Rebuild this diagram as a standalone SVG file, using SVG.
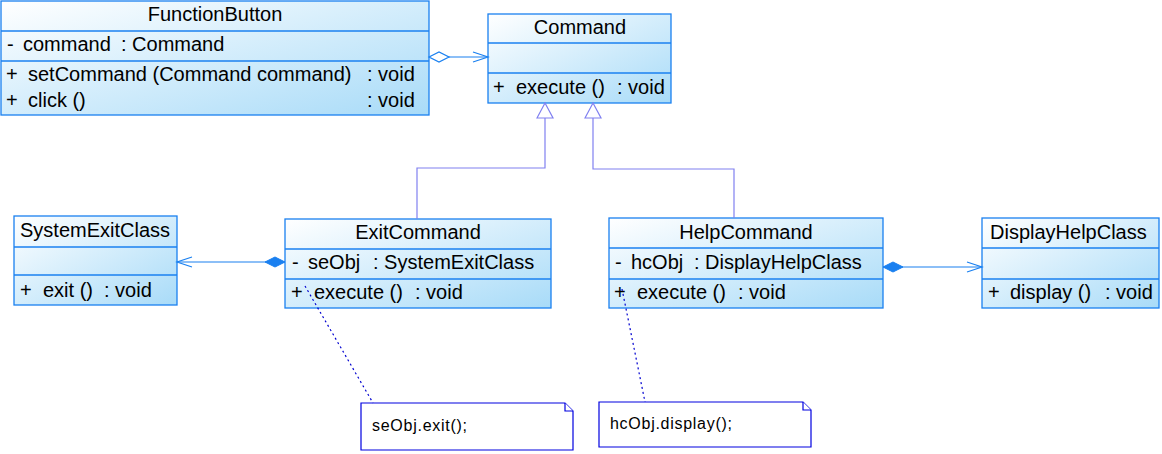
<svg xmlns="http://www.w3.org/2000/svg" width="1162" height="454" viewBox="0 0 1162 454">
<style>
.box{stroke:#1a80f0;stroke-width:1.3;fill:url(#g)}
.div{stroke:#1a80f0;stroke-width:1.3}
text{font-family:"Liberation Sans",Arial,sans-serif;font-size:20px;fill:#000}
.note text{font-size:16px}
.note path{fill:#fff;stroke:#0000e0;stroke-width:1.2}
.gen{fill:none;stroke:#8080f0;stroke-width:1.2}
.assoc{fill:none;stroke:#1a80f0;stroke-width:1.2}
.dash{fill:none;stroke:#0000d0;stroke-width:1.2;stroke-dasharray:2,3}
</style>
<defs>
<linearGradient id="g" x1="0" y1="0" x2="1" y2="1">
<stop offset="0" stop-color="#ffffff"/>
<stop offset="1" stop-color="#a8dbf8"/>
</linearGradient>
<marker id="open" markerUnits="userSpaceOnUse" markerWidth="17" markerHeight="12" refX="15" refY="5" orient="auto" overflow="visible">
<path d="M0,0 L15,5 L0,10" fill="none" stroke="#1a80f0" stroke-width="1.2"/>
</marker>
<marker id="fdiam" markerUnits="userSpaceOnUse" markerWidth="22" markerHeight="12" refX="0" refY="5" orient="auto" overflow="visible">
<path d="M0,5 L10,0 L20,5 L10,10 Z" fill="#1a80f0" stroke="#1a80f0" stroke-width="1"/>
</marker>
<marker id="hdiam" markerUnits="userSpaceOnUse" markerWidth="22" markerHeight="12" refX="0" refY="5" orient="auto" overflow="visible">
<path d="M0,5 L10,0 L20,5 L10,10 Z" fill="#fff" stroke="#1a80f0" stroke-width="1.2"/>
</marker>
<marker id="tri" markerUnits="userSpaceOnUse" markerWidth="18" markerHeight="18" refX="15" refY="8" orient="auto" overflow="visible">
<path d="M0,0 L15,8 L0,16 Z" fill="#fff" stroke="#8080f0" stroke-width="1.2"/>
</marker>
</defs>
<rect width="1162" height="454" fill="#fff"/>

<g id="FunctionButton">
<rect class="box" x="1" y="1" width="428" height="114"/>
<line class="div" x1="1" y1="31" x2="429" y2="31"/>
<line class="div" x1="1" y1="61" x2="429" y2="61"/>
<text x="215" y="21" text-anchor="middle">FunctionButton</text>
<text x="7" y="51">-</text><text x="23" y="51">command</text><text x="121" y="51">: Command</text>
<text x="6" y="81">+</text><text x="28" y="81">setCommand (Command command)</text><text x="367" y="81">: void</text>
<text x="6" y="107">+</text><text x="28" y="107">click ()</text><text x="367" y="107">: void</text>
</g>

<g id="Command">
<rect class="box" x="488" y="14" width="183" height="89"/>
<line class="div" x1="488" y1="43" x2="671" y2="43"/>
<line class="div" x1="488" y1="73" x2="671" y2="73"/>
<text x="580" y="34" text-anchor="middle">Command</text>
<text x="493" y="94">+</text><text x="516" y="94">execute ()</text><text x="617" y="94">: void</text>
</g>

<g id="SystemExitClass">
<rect class="box" x="14" y="216" width="163" height="89"/>
<line class="div" x1="14" y1="247" x2="177" y2="247"/>
<line class="div" x1="14" y1="275" x2="177" y2="275"/>
<text x="20" y="237">SystemExitClass</text>
<text x="20" y="297">+</text><text x="43" y="297">exit ()</text><text x="104" y="297">: void</text>
</g>

<g id="ExitCommand">
<rect class="box" x="285" y="219" width="266" height="89"/>
<line class="div" x1="285" y1="249" x2="551" y2="249"/>
<line class="div" x1="285" y1="279" x2="551" y2="279"/>
<text x="418" y="239" text-anchor="middle">ExitCommand</text>
<text x="292" y="269">-</text><text x="308" y="269">seObj</text><text x="373" y="269">: SystemExitClass</text>
<text x="291" y="299">+</text><text x="314" y="299">execute ()</text><text x="415" y="299">: void</text>
</g>

<g id="HelpCommand">
<rect class="box" x="609" y="218" width="274" height="90"/>
<line class="div" x1="609" y1="248" x2="883" y2="248"/>
<line class="div" x1="609" y1="279" x2="883" y2="279"/>
<text x="746" y="239" text-anchor="middle">HelpCommand</text>
<text x="615" y="269">-</text><text x="631" y="269">hcObj</text><text x="694" y="269">: DisplayHelpClass</text>
<text x="614" y="299">+</text><text x="637" y="299">execute ()</text><text x="738" y="299">: void</text>
</g>

<g id="DisplayHelpClass">
<rect class="box" x="982" y="218" width="177" height="90"/>
<line class="div" x1="982" y1="248" x2="1159" y2="248"/>
<line class="div" x1="982" y1="279" x2="1159" y2="279"/>
<text x="990" y="239">DisplayHelpClass</text>
<text x="988" y="299">+</text><text x="1010" y="299">display ()</text><text x="1105" y="299">: void</text>
</g>

<g id="note1" class="note">
<path d="M361,403 H565 L573,411 V450 H361 Z"/>
<path d="M565,403 V411 H573" fill="none"/>
<text x="372" y="431" textLength="95">seObj.exit();</text>
</g>

<g id="note2" class="note">
<path d="M599,402 H803 L811,410 V447 H599 Z"/>
<path d="M803,402 V410 H811" fill="none"/>
<text x="610" y="429" textLength="122">hcObj.display();</text>
</g>

<g id="connectors">
<path class="assoc" d="M429,57 H488" marker-start="url(#hdiam)" marker-end="url(#open)"/>
<path class="assoc" d="M285,262 H177" marker-start="url(#fdiam)" marker-end="url(#open)"/>
<path class="assoc" d="M883,267 H982" marker-start="url(#fdiam)" marker-end="url(#open)"/>
<path class="gen" d="M417,219 V168 H545 V103" marker-end="url(#tri)"/>
<path class="gen" d="M734,218 V169 H593 V103" marker-end="url(#tri)"/>
<path class="dash" d="M305,286 L373,403"/>
<path class="dash" d="M622,289 L645,402"/>
</g>
</svg>
